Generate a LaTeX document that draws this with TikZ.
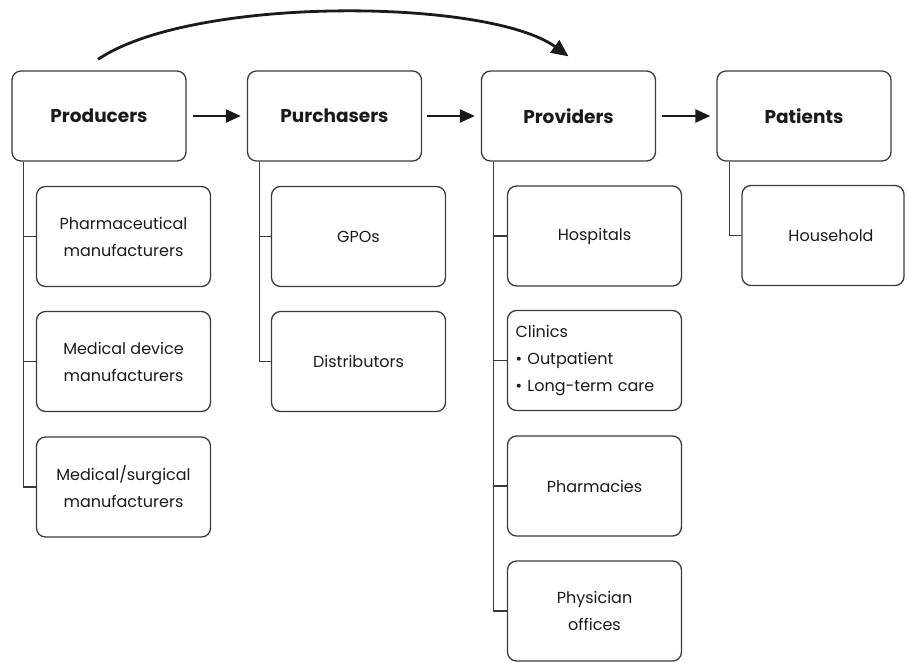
\documentclass[tikz,border=0pt]{standalone}
\usepackage{fontspec}
\setmainfont{Poppins}
\usetikzlibrary{arrows.meta}
\definecolor{ink}{HTML}{1A1A1A}
\definecolor{linegray}{HTML}{3A3A3A}
\begin{document}
\begin{tikzpicture}[x=1pt,y=-1pt,
  headbox/.style={draw=linegray, line width=1.3pt, rounded corners=9pt,
    minimum width=174pt, minimum height=90pt, inner sep=0pt,
    font=\fontsize{18.5}{22}\selectfont\bfseries, text=ink},
  subbox/.style={draw=linegray, line width=1.3pt, rounded corners=9pt,
    minimum width=174pt, minimum height=100pt, inner sep=0pt,
    font=\fontsize{16}{27}\selectfont, align=center, text=ink},
  flow/.style={line width=2.6pt, draw=ink, -{Triangle[length=15pt,width=13pt]}},
  branch/.style={draw=linegray, line width=1.2pt},
]
\useasboundingbox (0,0) rectangle (907,662);

% main stages
\node[headbox] (prod) at (99,116)    {Producers};
\node[headbox] (purch) at (334.5,116) {Purchasers};
\node[headbox] (prov) at (568.5,116) {Providers};
\node[headbox] (pat) at (804,116)    {Patients};

% stage-to-stage arrows
\draw[flow] ([xshift=6pt]prod.east) -- ([xshift=-6pt]purch.west);
\draw[flow] ([xshift=5pt]purch.east) -- ([xshift=-6pt]prov.west);
\draw[flow] ([xshift=6pt]prov.east) -- ([xshift=-6pt]pat.west);

% producers bypassing purchasers
\draw[line width=2.8pt, draw=ink, -{Triangle[length=17pt,width=15pt]}]
  ([yshift=11pt,xshift=-1pt]prod.north) .. controls +(95,-64) and +(-80,-58) .. ([yshift=14pt]prov.north);

% producers
\node[subbox] (pharma) at (123.5,236.5) {Pharmaceutical\\manufacturers};
\node[subbox] (device) at (123.5,361.5) {Medical device\\manufacturers};
\node[subbox] (surg)   at (123.5,487)   {Medical/surgical\\manufacturers};

% purchasers
\node[subbox] (gpo)  at (358.5,236.5) {GPOs};
\node[subbox] (dist) at (358.5,361.5) {Distributors};

% providers
\node[subbox] (hosp) at (594.5,236) {Hospitals};
\node[subbox, align=left, text width=158pt, inner xsep=8pt] (clin) at (594.5,360.5)
  {Clinics\\\textbullet\ Outpatient\\\textbullet\ Long-term care};
\node[subbox] (pharm) at (594.5,486) {Pharmacies};
\node[subbox] (phys)  at (594.5,611) {Physician\\offices};

% patients
\node[subbox, minimum width=162pt] (house) at (823,235.5) {\hspace*{16pt}Household};

% tree branches
\foreach \kid in {pharma,device,surg}
  \draw[branch] ([xshift=12.5pt]prod.south west) |- (\kid.west);
\foreach \kid in {gpo,dist}
  \draw[branch] ([xshift=12.5pt]purch.south west) |- (\kid.west);
\foreach \kid in {hosp,clin,pharm,phys}
  \draw[branch] ([xshift=13pt]prov.south west) |- (\kid.west);
\draw[branch] ([xshift=13pt]pat.south west) |- (house.west);
\end{tikzpicture}
\end{document}
